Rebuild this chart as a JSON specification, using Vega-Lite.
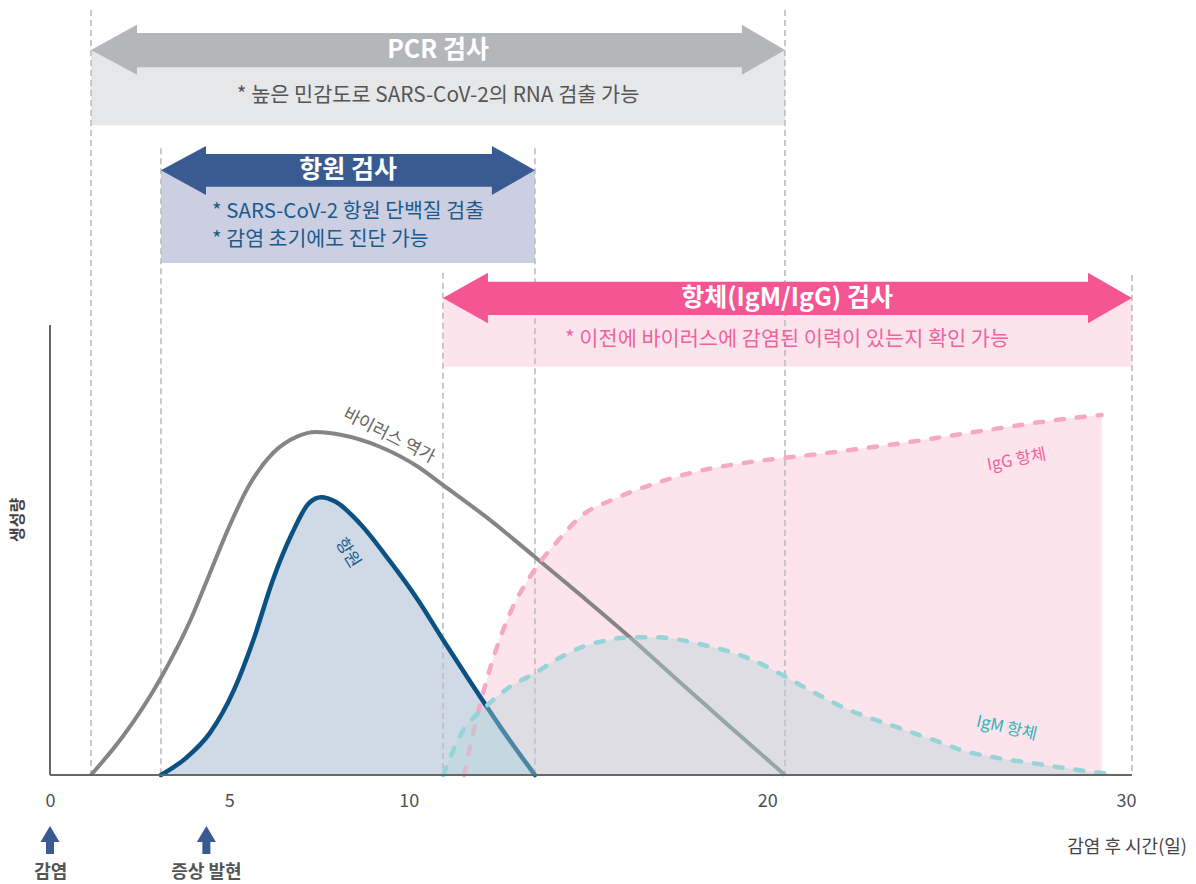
{
  "$schema": "https://vega.github.io/schema/vega-lite/v6.json",
  "width": 1076,
  "height": 775,
  "autosize": {"type": "none"},
  "padding": {"left": 50, "top": 0, "right": 70, "bottom": 109},
  "background": "white",
  "config": {"view": {"stroke": null}, "font": "Noto Sans CJK KR", "text": {"font": "Noto Sans CJK KR"}},
  "datasets": {
    "banners": [
      {"t": "PCR", "d": 1.143, "d2": 20.491, "v": 161.1, "v2": 144.4},
      {"t": "항원", "d": 3.094, "d2": 13.521, "v": 134.4, "v2": 113.8},
      {"t": "항체", "d": 10.956, "d2": 30.165, "v": 106.0, "v2": 90.7}
    ],
    "shafts": [
      {"t": "PCR", "d": 2.35, "d2": 19.37, "v": 164.9, "v2": 157.3},
      {"t": "항원", "d": 4.27, "d2": 12.4, "v": 138.0, "v2": 130.7},
      {"t": "항체", "d": 12.13, "d2": 29.02, "v": 109.6, "v2": 102.2}
    ],
    "heads": [
      {"t": "PCR", "g": "PCR-L", "d": 1.143, "v": 161.1, "v2": 161.1},
      {"t": "PCR", "g": "PCR-L", "d": 2.425, "v": 155.6, "v2": 166.7},
      {"t": "PCR", "g": "PCR-R", "d": 19.29, "v": 155.6, "v2": 166.7},
      {"t": "PCR", "g": "PCR-R", "d": 20.491, "v": 161.1, "v2": 161.1},
      {"t": "항원", "g": "AG-L", "d": 3.094, "v": 134.4, "v2": 134.4},
      {"t": "항원", "g": "AG-L", "d": 4.349, "v": 128.9, "v2": 139.8},
      {"t": "항원", "g": "AG-R", "d": 12.32, "v": 128.9, "v2": 139.8},
      {"t": "항원", "g": "AG-R", "d": 13.521, "v": 134.4, "v2": 134.4},
      {"t": "항체", "g": "AB-L", "d": 10.956, "v": 106.0, "v2": 106.0},
      {"t": "항체", "g": "AB-L", "d": 12.21, "v": 100.4, "v2": 111.6},
      {"t": "항체", "g": "AB-R", "d": 28.94, "v": 100.4, "v2": 111.6},
      {"t": "항체", "g": "AB-R", "d": 30.165, "v": 106.0, "v2": 106.0}
    ],
    "btext": [
      {"k": "title", "t": "PCR 검사", "d": 10.82, "v": 161.1},
      {"k": "title", "t": "항원 검사", "d": 8.31, "v": 134.4},
      {"k": "title", "t": "항체(IgM/IgG) 검사", "d": 20.55, "v": 106.0},
      {"k": "pcr", "t": "* 높은 민감도로 SARS-CoV-2의 RNA 검출 가능", "d": 10.82, "v": 150.9},
      {"k": "ag", "t": "* SARS-CoV-2 항원 단백질 검출", "d": 4.52, "v": 125.1},
      {"k": "ag", "t": "* 감염 초기에도 진단 가능", "d": 4.52, "v": 118.9},
      {"k": "ab", "t": "* 이전에 바이러스에 감염된 이력이 있는지 확인 가능", "d": 20.55, "v": 96.7}
    ],
    "vlines": [
      {"d": 1.143, "v": 170},
      {"d": 3.094, "v": 139.3},
      {"d": 10.956, "v": 111.6},
      {"d": 13.521, "v": 139.3},
      {"d": 20.491, "v": 170},
      {"d": 30.165, "v": 111.1}
    ],
    "curves": [
      {"c": "viral", "d": 1.143, "v": 0},
      {"c": "viral", "d": 2.024, "v": 8.5},
      {"c": "viral", "d": 3.106, "v": 21.8},
      {"c": "viral", "d": 3.914, "v": 34.4},
      {"c": "viral", "d": 4.455, "v": 44.8},
      {"c": "viral", "d": 4.996, "v": 55.2},
      {"c": "viral", "d": 5.534, "v": 64.1},
      {"c": "viral", "d": 6.211, "v": 71.5},
      {"c": "viral", "d": 6.886, "v": 75.2},
      {"c": "viral", "d": 7.424, "v": 76.2},
      {"c": "viral", "d": 8.101, "v": 75.6},
      {"c": "viral", "d": 9.18, "v": 73.0},
      {"c": "viral", "d": 10.259, "v": 68.5},
      {"c": "viral", "d": 10.962, "v": 64.4},
      {"c": "viral", "d": 12.149, "v": 57.4},
      {"c": "viral", "d": 13.513, "v": 48.5},
      {"c": "viral", "d": 14.851, "v": 39.6},
      {"c": "viral", "d": 16.2, "v": 30.4},
      {"c": "viral", "d": 17.55, "v": 20.7},
      {"c": "viral", "d": 18.902, "v": 11.1},
      {"c": "viral", "d": 20.491, "v": 0},
      {"c": "antigen", "d": 3.094, "v": 0},
      {"c": "antigen", "d": 3.78, "v": 3.7},
      {"c": "antigen", "d": 4.455, "v": 9.3},
      {"c": "antigen", "d": 5.13, "v": 18.9},
      {"c": "antigen", "d": 5.67, "v": 30.0},
      {"c": "antigen", "d": 6.211, "v": 43.3},
      {"c": "antigen", "d": 6.749, "v": 53.7},
      {"c": "antigen", "d": 7.221, "v": 60.4},
      {"c": "antigen", "d": 7.561, "v": 61.7},
      {"c": "antigen", "d": 7.965, "v": 60.7},
      {"c": "antigen", "d": 8.64, "v": 55.9},
      {"c": "antigen", "d": 9.451, "v": 47.8},
      {"c": "antigen", "d": 10.259, "v": 38.9},
      {"c": "antigen", "d": 10.962, "v": 30.0},
      {"c": "antigen", "d": 11.745, "v": 20.4},
      {"c": "antigen", "d": 12.556, "v": 10.7},
      {"c": "antigen", "d": 13.521, "v": 0},
      {"c": "IgG", "d": 11.542, "v": 0},
      {"c": "IgG", "d": 11.882, "v": 12.2},
      {"c": "IgG", "d": 12.286, "v": 24.1},
      {"c": "IgG", "d": 12.824, "v": 35.9},
      {"c": "IgG", "d": 13.513, "v": 45.6},
      {"c": "IgG", "d": 14.176, "v": 52.2},
      {"c": "IgG", "d": 14.851, "v": 57.8},
      {"c": "IgG", "d": 15.659, "v": 61.1},
      {"c": "IgG", "d": 16.875, "v": 64.8},
      {"c": "IgG", "d": 18.227, "v": 67.8},
      {"c": "IgG", "d": 19.576, "v": 69.6},
      {"c": "IgG", "d": 21.06, "v": 71.0},
      {"c": "IgG", "d": 22.3, "v": 72.2},
      {"c": "IgG", "d": 23.697, "v": 73.7},
      {"c": "IgG", "d": 26.019, "v": 76.5},
      {"c": "IgG", "d": 27.413, "v": 78.2},
      {"c": "IgG", "d": 28.807, "v": 79.6},
      {"c": "IgG", "d": 29.32, "v": 80.0},
      {"c": "IgM", "d": 10.962, "v": 0},
      {"c": "IgM", "d": 11.475, "v": 9.3},
      {"c": "IgM", "d": 12.149, "v": 15.2},
      {"c": "IgM", "d": 12.824, "v": 19.6},
      {"c": "IgM", "d": 13.513, "v": 22.6},
      {"c": "IgM", "d": 14.176, "v": 25.9},
      {"c": "IgM", "d": 14.851, "v": 28.5},
      {"c": "IgM", "d": 15.5, "v": 29.9},
      {"c": "IgM", "d": 16.2, "v": 30.6},
      {"c": "IgM", "d": 16.875, "v": 30.6},
      {"c": "IgM", "d": 18.227, "v": 28.9},
      {"c": "IgM", "d": 19.576, "v": 25.6},
      {"c": "IgM", "d": 20.519, "v": 21.8},
      {"c": "IgM", "d": 21.168, "v": 18.9},
      {"c": "IgM", "d": 22.3, "v": 14.4},
      {"c": "IgM", "d": 23.697, "v": 10.4},
      {"c": "IgM", "d": 24.625, "v": 7.8},
      {"c": "IgM", "d": 25.556, "v": 5.2},
      {"c": "IgM", "d": 26.485, "v": 3.7},
      {"c": "IgM", "d": 27.413, "v": 2.6},
      {"c": "IgM", "d": 28.343, "v": 1.5},
      {"c": "IgM", "d": 29.271, "v": 0.5},
      {"c": "IgM", "d": 29.737, "v": 0.2}
    ],
    "clabels": [
      {"k": "viral", "t": "바이러스 역가", "d": 9.45, "v": 75.3},
      {"k": "antigen", "t": "항원", "d": 8.3, "v": 49.3},
      {"k": "IgG", "t": "IgG 항체", "d": 26.95, "v": 70.0},
      {"k": "IgM", "t": "IgM 항체", "d": 26.67, "v": 10.4}
    ],
    "vaxis": [{"d": 0, "v": 100, "v2": 0}],
    "haxis": [{"d": 0, "d2": 30.165, "v": 0}],
    "upshafts": [
      {"d": -0.112, "d2": 0.112, "v": -14.3, "v2": -17.56},
      {"d": 4.248, "d2": 4.472, "v": -14.3, "v2": -17.56}
    ],
    "upheads": [
      {"g": "a", "d": -0.265, "v": -14.89, "v2": -14.89},
      {"g": "a", "d": 0, "v": -11.33, "v2": -14.89},
      {"g": "a", "d": 0.265, "v": -14.89, "v2": -14.89},
      {"g": "b", "d": 4.095, "v": -14.89, "v2": -14.89},
      {"g": "b", "d": 4.36, "v": -11.33, "v2": -14.89},
      {"g": "b", "d": 4.625, "v": -14.89, "v2": -14.89}
    ],
    "bottomtext": [
      {"t": "감염", "d": 0.02, "v": -21.8},
      {"t": "증상 발현", "d": 4.36, "v": -21.8}
    ],
    "xtitle": [{"t": "감염 후 시간(일)", "d": 30.03, "v": -16.2}],
    "ytitle": [{"t": "생성량", "d": -0.892, "v": 56.7}]
  },
  "encoding": {
    "x": {
      "field": "d", "type": "quantitative",
      "scale": {"domain": [0, 30], "nice": false, "zero": false},
      "axis": {"values": [0, 5, 10, 20, 30], "grid": false, "domain": false, "ticks": false, "tickSize": 0, "labelPadding": 17, "labelFontSize": 18, "labelColor": "#505050", "labelFont": "Noto Sans CJK KR", "title": null, "labelFlush": false}
    },
    "y": {"field": "v", "type": "quantitative", "scale": {"domain": [0, 172.22], "nice": false}, "axis": null}
  },
  "layer": [
    {
      "data": {"name": "banners"},
      "mark": {"type": "rect"},
      "encoding": {
        "x2": {"field": "d2"}, "y2": {"field": "v2"},
        "color": {"field": "t", "type": "nominal", "scale": {"domain": ["PCR", "항원", "항체"], "range": ["#e6e7e8", "#cbcfe1", "#fde4ec"]}, "legend": null}
      }
    },
    {
      "data": {"name": "curves"},
      "transform": [{"filter": "datum.c === 'IgG'"}],
      "mark": {"type": "area", "color": "#fde3ec", "interpolate": "monotone"},
      "encoding": {"y2": {"datum": 0}}
    },
    {
      "data": {"name": "curves"},
      "transform": [{"filter": "datum.c === 'antigen'"}],
      "mark": {"type": "area", "color": "#d0dae6", "interpolate": "monotone"},
      "encoding": {"y2": {"datum": 0}}
    },
    {
      "data": {"name": "vlines"},
      "mark": {"type": "rule", "color": "#bdbdbd", "strokeWidth": 1.6, "strokeDash": [6, 4]},
      "encoding": {"y2": {"datum": 0}}
    },
    {
      "data": {"name": "shafts"},
      "mark": {"type": "rect"},
      "encoding": {
        "x2": {"field": "d2"}, "y2": {"field": "v2"},
        "color": {"field": "t", "type": "nominal", "scale": {"domain": ["PCR", "항원", "항체"], "range": ["#b5b6b9", "#3a5a92", "#f65594"]}, "legend": null}
      }
    },
    {
      "data": {"name": "heads"},
      "mark": {"type": "area", "opacity": 1},
      "encoding": {
        "y2": {"field": "v2"},
        "detail": {"field": "g"},
        "color": {"field": "t", "type": "nominal", "scale": {"domain": ["PCR", "항원", "항체"], "range": ["#b5b6b9", "#3a5a92", "#f65594"]}, "legend": null}
      }
    },
    {
      "data": {"name": "btext"},
      "transform": [{"filter": "datum.k === 'title'"}],
      "mark": {"type": "text", "color": "white", "fontSize": 25, "fontWeight": "bold", "align": "center", "baseline": "middle"},
      "encoding": {"text": {"field": "t"}}
    },
    {
      "data": {"name": "btext"},
      "transform": [{"filter": "datum.k === 'pcr'"}],
      "mark": {"type": "text", "color": "#555555", "fontSize": 20.8, "align": "center", "baseline": "middle"},
      "encoding": {"text": {"field": "t"}}
    },
    {
      "data": {"name": "btext"},
      "transform": [{"filter": "datum.k === 'ag'"}],
      "mark": {"type": "text", "color": "#1b5a8c", "fontSize": 20.5, "align": "left", "baseline": "middle"},
      "encoding": {"text": {"field": "t"}}
    },
    {
      "data": {"name": "btext"},
      "transform": [{"filter": "datum.k === 'ab'"}],
      "mark": {"type": "text", "color": "#f0639c", "fontSize": 20.8, "align": "center", "baseline": "middle"},
      "encoding": {"text": {"field": "t"}}
    },
    {
      "data": {"name": "curves"},
      "transform": [{"filter": "datum.c === 'viral'"}],
      "mark": {"type": "line", "color": "#858585", "strokeWidth": 4, "interpolate": "monotone"},
      "encoding": {}
    },
    {
      "data": {"name": "curves"},
      "transform": [{"filter": "datum.c === 'antigen'"}],
      "mark": {"type": "line", "color": "#0b5283", "strokeWidth": 4.5, "interpolate": "monotone", "strokeCap": "round"},
      "encoding": {}
    },
    {
      "data": {"name": "curves"},
      "transform": [{"filter": "datum.c === 'IgG'"}],
      "mark": {"type": "line", "color": "#f7a8c6", "strokeWidth": 4.5, "interpolate": "monotone", "strokeDash": [8, 13], "strokeCap": "round"},
      "encoding": {}
    },
    {
      "data": {"name": "curves"},
      "transform": [{"filter": "datum.c === 'IgM'"}],
      "mark": {"type": "area", "color": "#aed4d8", "opacity": 0.4, "interpolate": "monotone"},
      "encoding": {"y2": {"datum": 0}}
    },
    {
      "data": {"name": "curves"},
      "transform": [{"filter": "datum.c === 'IgM'"}],
      "mark": {"type": "line", "color": "#95d4d7", "strokeWidth": 4.5, "interpolate": "monotone", "strokeDash": [8, 13], "strokeCap": "round"},
      "encoding": {}
    },
    {
      "data": {"name": "clabels"},
      "transform": [{"filter": "datum.k === 'viral'"}],
      "mark": {"type": "text", "color": "#666666", "fontSize": 17.5, "angle": 27, "align": "center", "baseline": "middle"},
      "encoding": {"text": {"field": "t"}}
    },
    {
      "data": {"name": "clabels"},
      "transform": [{"filter": "datum.k === 'antigen'"}],
      "mark": {"type": "text", "color": "#1b5a8c", "fontSize": 17, "angle": 58, "align": "center", "baseline": "middle"},
      "encoding": {"text": {"field": "t"}}
    },
    {
      "data": {"name": "clabels"},
      "transform": [{"filter": "datum.k === 'IgG'"}],
      "mark": {"type": "text", "color": "#f0639c", "fontSize": 16.5, "angle": -11, "align": "center", "baseline": "middle"},
      "encoding": {"text": {"field": "t"}}
    },
    {
      "data": {"name": "clabels"},
      "transform": [{"filter": "datum.k === 'IgM'"}],
      "mark": {"type": "text", "color": "#2fb3b5", "fontSize": 16.5, "angle": 13, "align": "center", "baseline": "middle"},
      "encoding": {"text": {"field": "t"}}
    },
    {
      "data": {"name": "vaxis"},
      "mark": {"type": "rule", "color": "#666666", "strokeWidth": 2},
      "encoding": {"y2": {"field": "v2"}}
    },
    {
      "data": {"name": "haxis"},
      "mark": {"type": "rule", "color": "#666666", "strokeWidth": 2},
      "encoding": {"x2": {"field": "d2"}}
    },
    {
      "data": {"name": "upshafts"},
      "mark": {"type": "rect", "color": "#3a5a92"},
      "encoding": {"x2": {"field": "d2"}, "y2": {"field": "v2"}}
    },
    {
      "data": {"name": "upheads"},
      "mark": {"type": "area", "color": "#3a5a92"},
      "encoding": {"y2": {"field": "v2"}, "detail": {"field": "g"}}
    },
    {
      "data": {"name": "bottomtext"},
      "mark": {"type": "text", "color": "#555555", "fontSize": 18, "fontWeight": "bold", "align": "center", "baseline": "middle"},
      "encoding": {"text": {"field": "t"}}
    },
    {
      "data": {"name": "xtitle"},
      "mark": {"type": "text", "color": "#444444", "fontSize": 18, "align": "center", "baseline": "middle"},
      "encoding": {"text": {"field": "t"}}
    },
    {
      "data": {"name": "ytitle"},
      "mark": {"type": "text", "color": "#444444", "fontSize": 16, "fontWeight": "bold", "angle": 270, "align": "center", "baseline": "middle"},
      "encoding": {"text": {"field": "t"}}
    }
  ],
  "resolve": {"scale": {"color": "independent"}}
}
